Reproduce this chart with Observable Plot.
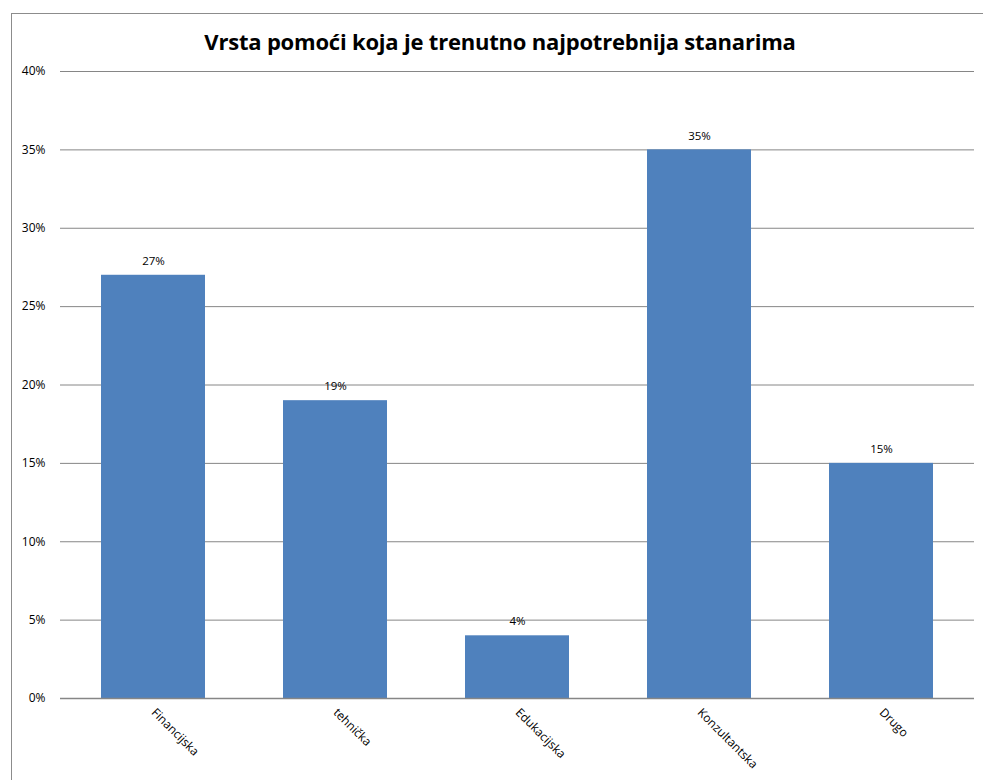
<!DOCTYPE html>
<html>
<head>
<meta charset="utf-8">
<script src="https://cdn.jsdelivr.net/npm/d3@7"></script>
<script src="https://cdn.jsdelivr.net/npm/@observablehq/plot@0.6"></script>
<style>
  body { margin: 0; background: #fff; }
  #wrap { position: relative; width: 983px; height: 780px; overflow: hidden; background: #fff; }
  #frame { position: absolute; left: 11px; top: 13px; width: 1000px; height: 800px; border: 1px solid #8c8c8c; box-sizing: border-box; }
  #title { position: absolute; left: 0; width: 1000px; top: 26px; text-align: center; font-family: "Open Sans", sans-serif; font-weight: bold; font-size: 22px; color: #000; letter-spacing: -0.2px; }
  #chart { position: absolute; left: 0; top: 0; }
</style>
</head>
<body>
<div id="wrap">
  <div id="frame"></div>
  <div id="title">Vrsta pomoći koja je trenutno najpotrebnija stanarima</div>
  <div id="chart"></div>
</div>
<script>
const categories = ["Financijska", "tehnička", "Edukacijska", "Konzultantska", "Drugo"];
const values = [0.27, 0.19, 0.04, 0.35, 0.15];
const yTicks = [0, 0.05, 0.10, 0.15, 0.20, 0.25, 0.30, 0.35, 0.40];

const data = categories.map((c, i) => ({category: c, value: values[i]}));
const pct = d3.format(".0%");

const chart = Plot.plot({
  width: 983,
  height: 780,
  marginTop: 71,
  marginBottom: 82,
  marginLeft: 60,
  marginRight: 9,
  style: {fontFamily: "'Open Sans', sans-serif", fontSize: "12px", color: "#000", background: "transparent"},
  x: {domain: categories, paddingInner: 0.426, paddingOuter: 0.213, label: null},
  y: {domain: [0, 0.40], label: null},
  marks: [
    Plot.gridY(yTicks, {stroke: "#868686", strokeOpacity: 1, strokeWidth: 1}),
    Plot.axisY(yTicks, {tickFormat: pct, tickSize: 0, tickPadding: 15, fontSize: 12}),
    Plot.barY(data, {x: "category", y: "value", fill: "#4F81BD"}),
    Plot.ruleY([0], {stroke: "#868686", strokeWidth: 1.5}),
    Plot.text(data, {x: "category", y: "value", text: d => pct(d.value), dy: -14, fontSize: 11.5, fill: "#000"}),
    Plot.axisX({tickSize: 0, tickPadding: 12, tickRotate: 45, fontSize: 12, label: null})
  ]
});
document.getElementById("chart").appendChild(chart);
</script>
</body>
</html>
